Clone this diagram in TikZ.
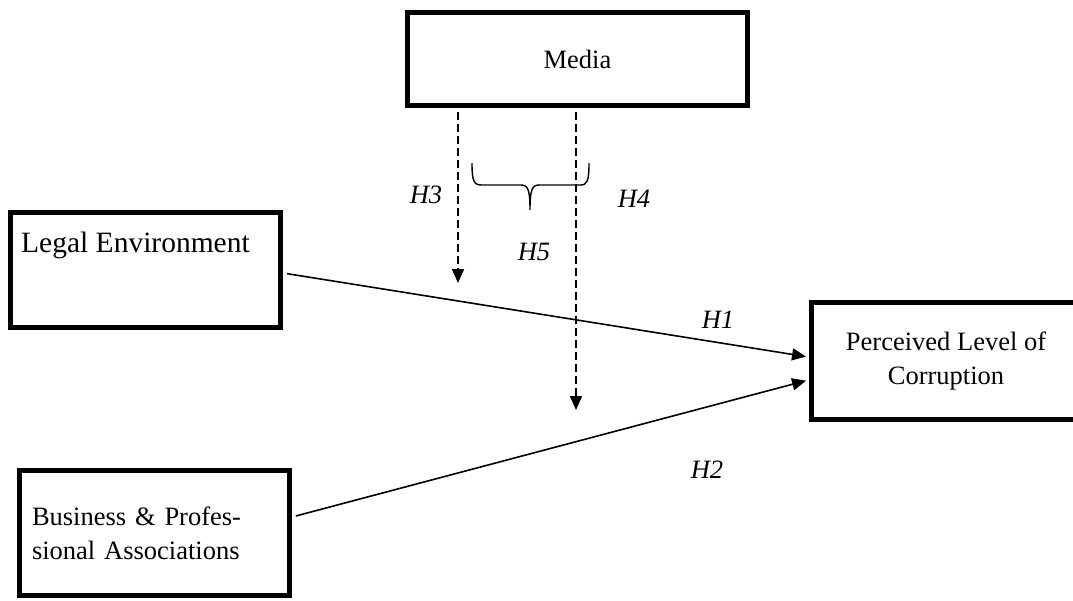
\documentclass[tikz,border=0pt]{standalone}
\usepackage{fontspec}
\setmainfont{Liberation Serif}
\usetikzlibrary{arrows.meta}

\begin{document}
\begin{tikzpicture}[x=1pt,y=-1pt,
  box/.style={draw, line width=5pt, minimum width=270pt, inner sep=0pt},
  conn/.style={line width=1.6pt, -{Triangle[length=14pt,width=12pt]}},
  modline/.style={conn, dash pattern=on 8pt off 4pt},
  hyp/.style={font=\fontsize{26.5}{32}\selectfont\itshape, inner sep=0pt},
  font=\fontsize{26.5}{34}\selectfont]

\useasboundingbox (0,0) rectangle (1073,600);

% boxes
\node[box, minimum width=340pt, minimum height=93pt] (media) at (577.5,59) {Media};
\node[box, minimum height=115pt] (legal) at (145.5,270) {};
\node[anchor=base west, inner sep=0pt, font=\fontsize{29.5}{34}\selectfont] (legaltxt) at (21,252) {Legal Environment};
\node[box, minimum height=125pt, text width=245pt, align=left] (business) at (154.5,533) {Business \& Profes-\\sional Associations};
\node[box, minimum height=117pt, align=center] (perceived) at (946,361) {Perceived Level of\\Corruption};

% direct effects
\draw[conn, shorten <=4pt, shorten >=2.5pt] ([yshift=-3pt]legal.east) -- ([yshift=4pt]perceived.west);
\draw[conn, shorten <=4pt, shorten >=2.5pt] ([yshift=16pt]business.east) -- ([yshift=-19pt]perceived.west);

% moderation by media
\coordinate (h3tip) at (458,283);
\coordinate (h4tip) at (576,410);
\draw[modline, shorten <=4pt] (media.south -| h3tip) -- (h3tip);
\draw[modline, shorten <=4pt] (media.south -| h4tip) -- (h4tip);

% brace
\draw[line width=1.4pt] (472,163) .. controls (472,182) and (474,185) .. (482,185) -- (521,185)
  .. controls (528,185) and (530,190) .. (530,210) .. controls (530,190) and (532,185) .. (539,185)
  -- (580,185) .. controls (587,185) and (589,182) .. (589,163);

% labels
\node[hyp] (h1) at (718,320) {H1};
\node[hyp] (h2) at (707,470) {H2};
\node[hyp] (h3) at (426,195) {H3};
\node[hyp] (h4) at (634,199) {H4};
\node[hyp] (h5) at (534,252) {H5};

\end{tikzpicture}
\end{document}
